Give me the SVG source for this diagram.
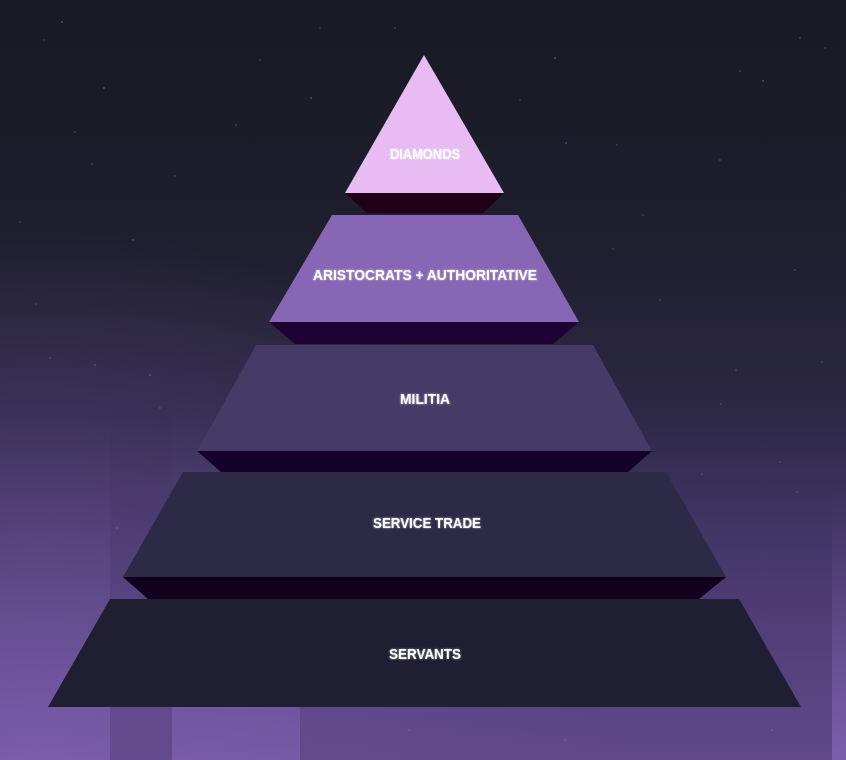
<svg xmlns="http://www.w3.org/2000/svg" width="846" height="760" viewBox="0 0 846 760">
<defs>
<linearGradient id="sky" x1="0" y1="0" x2="0" y2="1">
<stop offset="0" stop-color="#191a24"/>
<stop offset="0.3" stop-color="#1e1e2d"/>
<stop offset="0.55" stop-color="#2d2846"/>
<stop offset="0.75" stop-color="#4a3c72"/>
<stop offset="1" stop-color="#7458a4"/>
</linearGradient>
<radialGradient id="glowL" cx="0.05" cy="1" r="0.7">
<stop offset="0" stop-color="#8060b0" stop-opacity="0.5"/>
<stop offset="1" stop-color="#8060b0" stop-opacity="0"/>
</radialGradient>
<linearGradient id="band" x1="0" y1="0" x2="0" y2="1">
<stop offset="0" stop-color="#1a1030" stop-opacity="0"/>
<stop offset="1" stop-color="#1a1030" stop-opacity="0.22"/>
</linearGradient>
<linearGradient id="bandL" x1="0" y1="0" x2="0" y2="1">
<stop offset="0" stop-color="#9070c0" stop-opacity="0"/>
<stop offset="1" stop-color="#9070c0" stop-opacity="0.25"/>
</linearGradient>
<filter id="glow" x="-20%" y="-50%" width="140%" height="200%">
<feGaussianBlur in="SourceAlpha" stdDeviation="1.2" result="b"/>
<feFlood flood-color="#ffffff" flood-opacity="0.6"/>
<feComposite in2="b" operator="in" result="g"/>
<feMerge><feMergeNode in="g"/><feMergeNode in="SourceGraphic"/></feMerge>
</filter>
</defs>
<style>
.lbl{font-family:"Liberation Sans","DejaVu Sans",sans-serif;font-weight:bold;font-size:15px;fill:#ffffff;text-anchor:middle;filter:url(#glow)}
.star{fill:#8a88a8;opacity:0.5}
</style>

<g id="background">
<rect x="0" y="0" width="846" height="760" fill="url(#sky)"/>
<rect x="0" y="0" width="846" height="760" fill="url(#glowL)"/>
<rect x="110" y="380" width="62" height="380" fill="url(#band)"/>
<rect x="300" y="480" width="532" height="280" fill="url(#band)"/>
<rect x="832" y="500" width="14" height="260" fill="url(#bandL)"/>
<g id="stars">
<circle class="star" cx="62" cy="22" r="0.9"/><circle class="star" cx="44" cy="40" r="0.8"/>
<circle class="star" cx="104" cy="88" r="0.9"/><circle class="star" cx="92" cy="164" r="0.8"/>
<circle class="star" cx="75" cy="132" r="0.8"/><circle class="star" cx="133" cy="240" r="0.9"/>
<circle class="star" cx="175" cy="176" r="0.8"/><circle class="star" cx="236" cy="125" r="0.8"/>
<circle class="star" cx="260" cy="60" r="0.8"/><circle class="star" cx="311" cy="98" r="0.9"/>
<circle class="star" cx="395" cy="28" r="0.8"/><circle class="star" cx="320" cy="28" r="0.8"/>
<circle class="star" cx="555" cy="58" r="0.9"/><circle class="star" cx="520" cy="100" r="0.8"/>
<circle class="star" cx="566" cy="143" r="0.9"/><circle class="star" cx="617" cy="145" r="0.8"/>
<circle class="star" cx="613" cy="249" r="0.8"/><circle class="star" cx="643" cy="215" r="0.8"/>
<circle class="star" cx="720" cy="160" r="0.8"/><circle class="star" cx="763" cy="81" r="0.9"/>
<circle class="star" cx="800" cy="38" r="0.8"/><circle class="star" cx="825" cy="48" r="0.8"/>
<circle class="star" cx="795" cy="270" r="0.8"/><circle class="star" cx="740" cy="71" r="0.8"/>
<circle class="star" cx="20" cy="222" r="0.8"/><circle class="star" cx="36" cy="304" r="0.8"/>
<circle class="star" cx="50" cy="358" r="0.8"/><circle class="star" cx="95" cy="365" r="0.8"/>
<circle class="star" cx="150" cy="375" r="0.9"/><circle class="star" cx="160" cy="408" r="0.8"/>
<circle class="star" cx="117" cy="528" r="0.8"/><circle class="star" cx="721" cy="404" r="0.8"/>
<circle class="star" cx="702" cy="474" r="0.8"/><circle class="star" cx="780" cy="462" r="0.8"/>
<circle class="star" cx="797" cy="492" r="0.8"/><circle class="star" cx="822" cy="362" r="0.8"/>
<circle class="star" cx="736" cy="370" r="0.8"/><circle class="star" cx="565" cy="740" r="0.8"/>
<circle class="star" cx="240" cy="700" r="0.8"/><circle class="star" cx="772" cy="730" r="0.8"/>
<circle class="star" cx="409" cy="730" r="0.8"/><circle class="star" cx="660" cy="300" r="0.8"/>
</g>
</g>

<g id="servants">
<polygon points="110,599 739,599 801,707 48,707" fill="#1f1e32"/>
<text class="lbl" x="425" y="658.5" textLength="72" lengthAdjust="spacingAndGlyphs">SERVANTS</text>
</g>

<g id="service-trade">
<polygon points="123,577 726,577 699,599 148,599" fill="#12001f"/>
<polygon points="183,472 666,472 726,577 123,577" fill="#2c2a46"/>
<text class="lbl" x="427" y="527.5" textLength="108" lengthAdjust="spacingAndGlyphs">SERVICE TRADE</text>
</g>

<g id="militia">
<polygon points="197,451 652,451 628,472 221,472" fill="#15002a"/>
<polygon points="256,345 593,345 652,451 197,451" fill="#463a67"/>
<text class="lbl" x="425" y="403.5" textLength="50" lengthAdjust="spacingAndGlyphs">MILITIA</text>
</g>

<g id="aristocrats">
<polygon points="269,322 579,322 553,344 295,344" fill="#1e0232"/>
<polygon points="332,215 518,215 579,322 269,322" fill="#8767b5"/>
<text class="lbl" x="425" y="279.5" textLength="224" lengthAdjust="spacingAndGlyphs">ARISTOCRATS + AUTHORITATIVE</text>
</g>

<g id="diamonds">
<polygon points="345,193 504,193 483,213 367,213" fill="#1f0018"/>
<polygon points="424,55 504,193 345,193" fill="#e8bbf2"/>
<text class="lbl" x="425" y="158.5" textLength="70" lengthAdjust="spacingAndGlyphs">DIAMONDS</text>
</g>

<g id="connectors"/>
</svg>
